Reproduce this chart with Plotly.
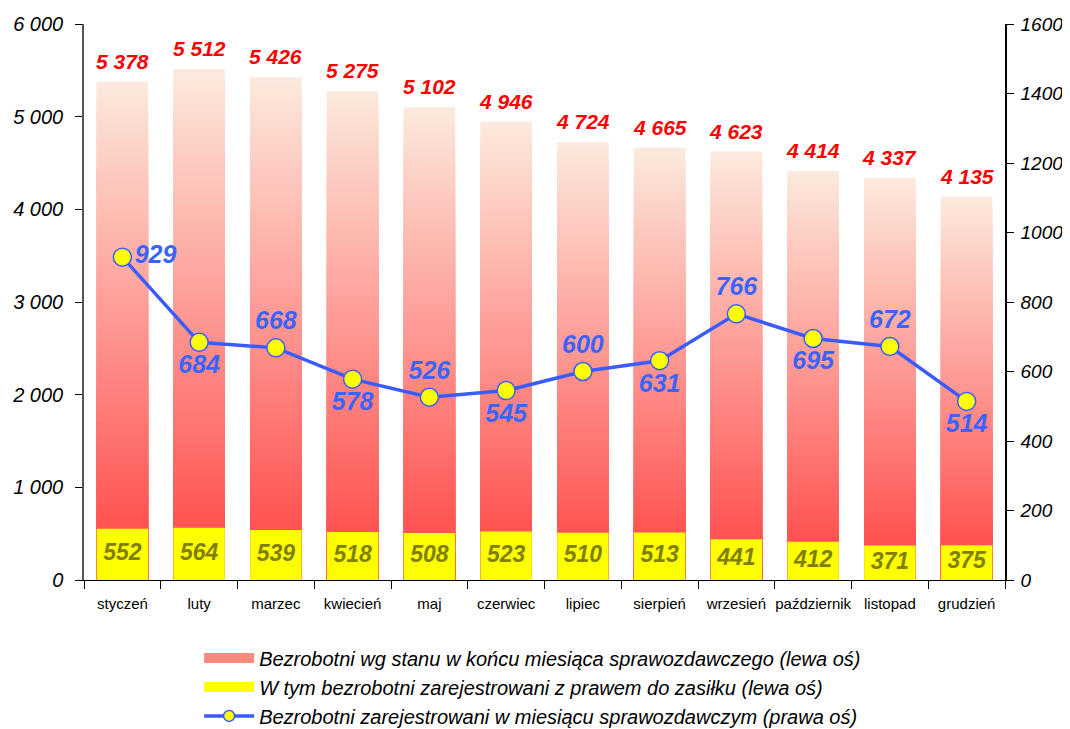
import plotly.graph_objects as go

months = ["styczeń", "luty", "marzec", "kwiecień", "maj", "czerwiec", "lipiec",
          "sierpień", "wrzesień", "październik", "listopad", "grudzień"]
stan = [5378, 5512, 5426, 5275, 5102, 4946, 4724, 4665, 4623, 4414, 4337, 4135]
zasilek = [552, 564, 539, 518, 508, 523, 510, 513, 441, 412, 371, 375]
zarejestrowani = [929, 684, 668, 578, 526, 545, 600, 631, 766, 695, 672, 514]
line_label_pos = ["middle right", "bottom center", "top center", "bottom center",
                  "top center", "bottom center", "top center", "bottom center",
                  "top center", "bottom center", "top center", "bottom center"]

name1 = "Bezrobotni wg stanu w końcu miesiąca sprawozdawczego (lewa oś)"
name2 = "W tym bezrobotni zarejestrowani z prawem do zasiłku (lewa oś)"
name3 = "Bezrobotni zarejestrowani w miesiącu sprawozdawczym (prawa oś)"

FONT = "Liberation Sans, Arial"
LINE_C = "#3A5CFF"


def fmt(v):
    return f"{v:,}".replace(",", " ")


bottom_rgb = (255, 64, 64)
top_rgb = (252, 232, 220)
N = 60
fig = go.Figure()
for k in range(N, 0, -1):
    t = k / N
    c = tuple(round(bottom_rgb[j] + (top_rgb[j] - bottom_rgb[j]) * t) for j in range(3))
    fig.add_trace(go.Bar(
        x=months, y=[v * t for v in stan],
        marker=dict(color=f"rgb{c}", line=dict(width=0)),
        width=0.67, showlegend=False, hoverinfo="skip"))

fig.add_trace(go.Bar(
    x=months, y=zasilek, marker=dict(color="#FFFF00", line=dict(width=0)),
    width=0.67, showlegend=False, name=name2))

fig.add_trace(go.Scatter(
    x=months, y=[v / 2 for v in zasilek], mode="text", text=[str(v) for v in zasilek],
    textposition="middle center", showlegend=False, hoverinfo="skip",
    textfont=dict(family=FONT, size=23, color="#808000", weight="bold", style="italic")))

fig.add_trace(go.Scatter(
    x=months, y=zarejestrowani, yaxis="y2", mode="lines+markers+text",
    text=[str(v) for v in zarejestrowani], textposition=line_label_pos,
    line=dict(color=LINE_C, width=3.5),
    marker=dict(size=18, color="#FFFF00", line=dict(color=LINE_C, width=1.5)),
    textfont=dict(family=FONT, size=25, color="#3A64FF", weight="bold", style="italic"),
    showlegend=False, name=name3))

# legend entries
fig.add_trace(go.Scatter(x=[None], y=[None], mode="lines", name=name1,
                         line=dict(color="#F98A80", width=14)))
fig.add_trace(go.Scatter(x=[None], y=[None], mode="lines", name=name2,
                         line=dict(color="#FFFF00", width=14)))
fig.add_trace(go.Scatter(x=[None], y=[None], mode="lines+markers", name=name3,
                         line=dict(color=LINE_C, width=3.5),
                         marker=dict(size=11, color="#FFFF00",
                                     line=dict(color=LINE_C, width=1.5))))

annotations = [dict(x=m, y=v, xref="x", yref="y", text=fmt(v), showarrow=False,
                    yanchor="bottom", yshift=7,
                    font=dict(family=FONT, size=21, color="#FF0000",
                              weight="bold", style="italic"))
               for m, v in zip(months, stan)]

fig.update_layout(
    width=1062, height=721,
    margin=dict(l=76, r=65, t=16, b=149, autoexpand=False),
    plot_bgcolor="white", paper_bgcolor="white",
    barmode="overlay",
    separators=", ",
    annotations=annotations,
    xaxis=dict(range=[-0.5, 11.5], showline=True, linecolor="black", linewidth=1,
               ticks="outside", tickson="boundaries", ticklen=8, tickcolor="black",
               tickangle=0, automargin=False, ticklabelstandoff=10,
               tickfont=dict(family=FONT, size=15, color="black"),
               showgrid=False),
    yaxis=dict(range=[0, 6000], dtick=1000, tickformat=",d", showline=True,
               linecolor="#555555", linewidth=1.5, ticks="outside", ticklen=7,
               ticklabelstandoff=8,
               tickcolor="black",
               tickfont=dict(family=FONT, size=20, color="black", style="italic"),
               showgrid=False, zeroline=False, automargin=False),
    yaxis2=dict(range=[0, 1600], dtick=200, tickformat="d", overlaying="y", side="right",
                showline=True, linecolor="black", linewidth=1.5, ticks="outside",
                ticklen=7, ticklabelstandoff=3, tickcolor="black",
                tickfont=dict(family=FONT, size=19, color="black", style="italic"),
                showgrid=False, zeroline=False, automargin=False),
    legend=dict(x=0.125, y=-0.105, xanchor="left", yanchor="top",
                font=dict(family=FONT, size=20, color="black", style="italic"),
                itemwidth=50, tracegroupgap=0, traceorder="normal"),
)

fig.write_html("out.html")
